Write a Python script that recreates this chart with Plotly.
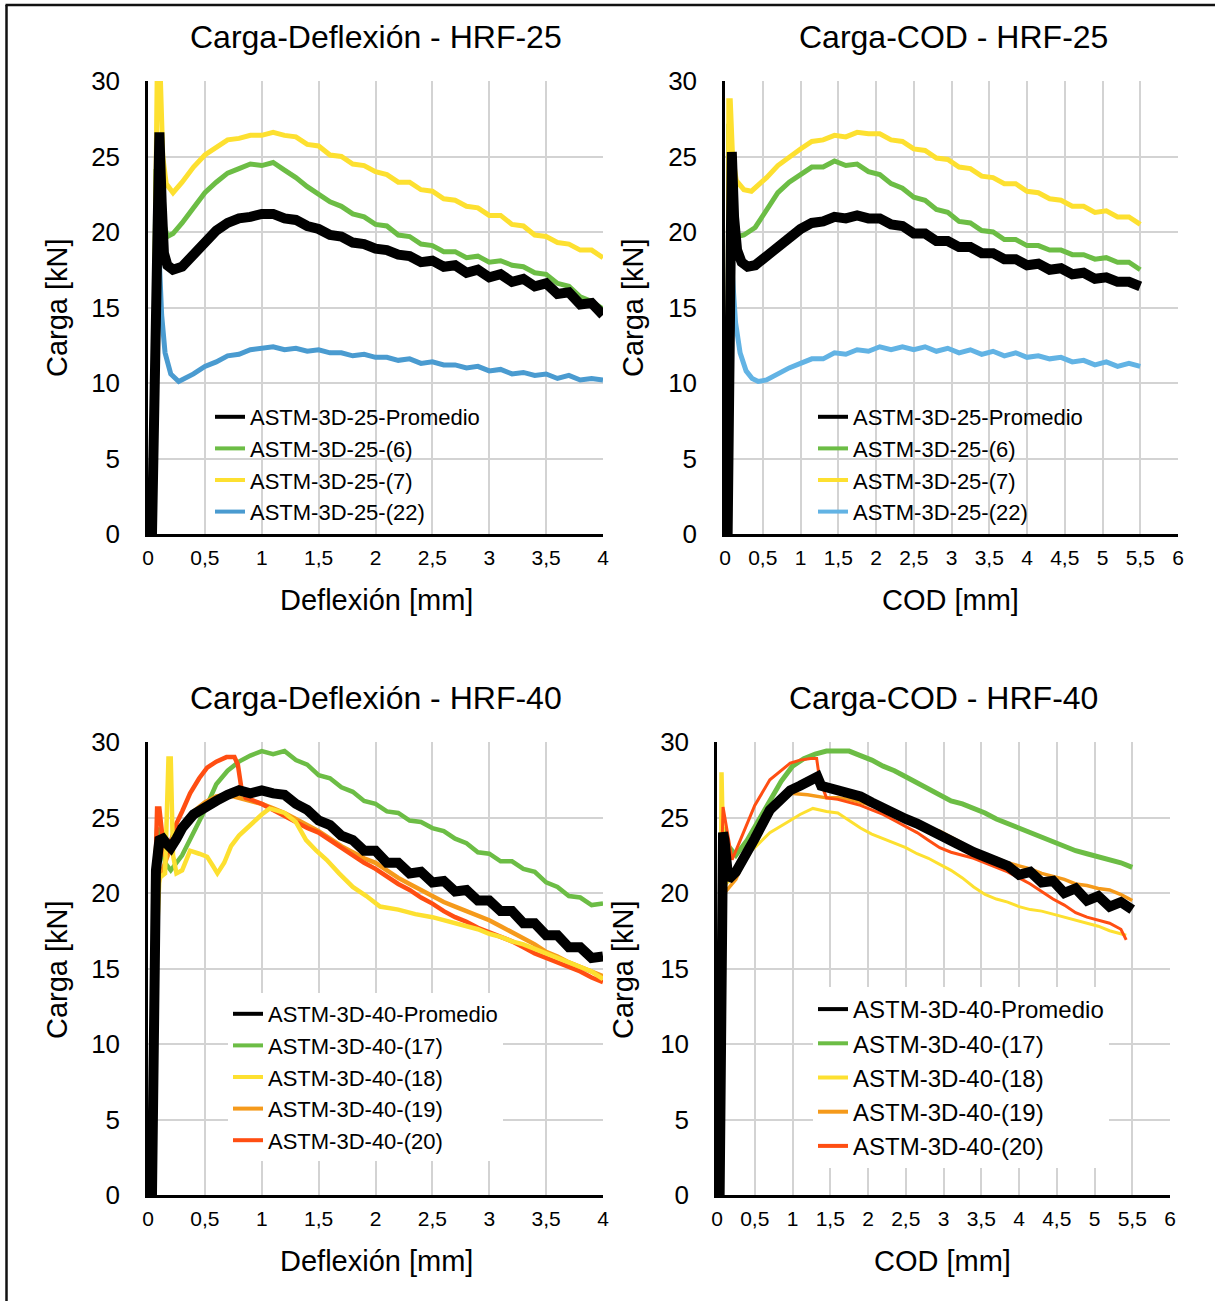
import plotly.graph_objects as go

W, H = 1215, 1301

# ---------------- data ----------------
DEF_X = [0.3, 0.4, 0.5, 0.6, 0.7, 0.8, 0.9, 1.0, 1.1, 1.2, 1.3, 1.4, 1.5, 1.6, 1.7, 1.8, 1.9,
         2.0, 2.1, 2.2, 2.3, 2.4, 2.5, 2.6, 2.7, 2.8, 2.9, 3.0, 3.1, 3.2, 3.3, 3.4, 3.5, 3.6,
         3.7, 3.8, 3.9, 4.0]
COD_X = [1.0, 1.15, 1.3, 1.45, 1.6, 1.75, 1.9, 2.05, 2.2, 2.35, 2.5, 2.65, 2.8, 2.95, 3.1,
         3.25, 3.4, 3.55, 3.7, 3.85, 4.0, 4.15, 4.3, 4.45, 4.6, 4.75, 4.9, 5.05, 5.2, 5.35, 5.5]

# --- HRF-25, Carga-Deflexion ---
d25_prom_x = [0.035, 0.08, 0.10, 0.12, 0.14, 0.17, 0.22] + DEF_X
d25_prom_y = [0, 26.6, 26.6, 22.0, 18.6, 17.8, 17.5,
              17.7, 18.5, 19.4, 20.1, 20.6, 20.9, 21.0, 21.2, 21.2, 20.9,
              20.8, 20.4, 20.2, 19.8, 19.7, 19.3, 19.2, 18.9, 18.8, 18.5,
              18.4, 18.0, 18.1, 17.7, 17.8, 17.3, 17.5, 17.0, 17.2, 16.7,
              16.9, 16.4, 16.6, 15.9, 16.0, 15.2, 15.3, 14.5]
d25_6_x = [0.035, 0.07, 0.1, 0.14, 0.17, 0.22] + DEF_X
d25_6_y = [0, 24.0, 24.0, 20.5, 19.7, 19.9,
           20.6, 21.6, 22.6, 23.3, 23.9, 24.2, 24.5, 24.4, 24.6, 24.1,
           23.6, 23.0, 22.5, 22.0, 21.7, 21.2, 21.0, 20.5, 20.4, 19.8,
           19.7, 19.2, 19.1, 18.7, 18.7, 18.3, 18.4, 18.0, 18.1, 17.8,
           17.7, 17.3, 17.2, 16.6, 16.4, 15.7, 15.4, 14.9]
d25_7_x = [0.035, 0.08, 0.11, 0.13, 0.16, 0.22] + DEF_X
d25_7_y = [0, 29.9, 29.9, 25.0, 23.2, 22.6,
           23.3, 24.3, 25.1, 25.6, 26.1, 26.2, 26.4, 26.4, 26.6, 26.4,
           26.3, 25.8, 25.7, 25.1, 25.0, 24.5, 24.4, 24.0, 23.8, 23.3,
           23.3, 22.8, 22.7, 22.2, 22.1, 21.7, 21.6, 21.1, 21.1, 20.5,
           20.4, 19.8, 19.7, 19.3, 19.2, 18.8, 18.8, 18.3]
d25_22_x = [0.035, 0.08, 0.1, 0.12, 0.15, 0.2, 0.27] + DEF_X
d25_22_y = [0, 18.5, 18.0, 14.5, 12.0, 10.6, 10.1,
            10.2, 10.6, 11.1, 11.4, 11.8, 11.9, 12.2, 12.3, 12.4, 12.2,
            12.3, 12.1, 12.2, 12.0, 12.0, 11.8, 11.9, 11.7, 11.7, 11.5,
            11.6, 11.3, 11.4, 11.2, 11.2, 11.0, 11.1, 10.8, 10.9, 10.6,
            10.7, 10.5, 10.6, 10.3, 10.5, 10.2, 10.3, 10.2]

# --- HRF-25, Carga-COD ---
c25_prom_x = [0.035, 0.06, 0.09, 0.12, 0.16, 0.22, 0.3, 0.4, 0.55, 0.7, 0.85] + COD_X
c25_prom_y = [0, 25.3, 25.3, 21.0, 18.8, 18.0, 17.7, 17.8, 18.4, 19.1, 19.7,
              20.2, 20.6, 20.7, 21.0, 20.9, 21.1, 20.9, 20.9, 20.5, 20.4,
              19.9, 19.9, 19.4, 19.4, 19.0, 19.0, 18.6, 18.6, 18.2, 18.2,
              17.8, 17.9, 17.5, 17.6, 17.2, 17.3, 16.9, 17.0, 16.7, 16.7, 16.4]
c25_6_x = [0.035, 0.05, 0.07, 0.1, 0.17, 0.25, 0.4, 0.55, 0.7, 0.85] + COD_X
c25_6_y = [0, 27.0, 27.0, 22.0, 19.7, 19.8, 20.3, 21.5, 22.6, 23.3,
           23.8, 24.3, 24.3, 24.7, 24.4, 24.5, 24.0, 23.8, 23.2, 22.9,
           22.3, 22.1, 21.5, 21.3, 20.7, 20.6, 20.1, 20.0, 19.5, 19.5,
           19.1, 19.1, 18.8, 18.8, 18.5, 18.5, 18.2, 18.3, 18.0, 18.0, 17.5]
c25_7_x = [0.035, 0.05, 0.07, 0.1, 0.15, 0.25, 0.35, 0.45, 0.55, 0.7, 0.85] + COD_X
c25_7_y = [0, 28.7, 28.7, 25.0, 23.4, 22.8, 22.7, 23.1, 23.6, 24.4, 25.0,
           25.5, 26.0, 26.1, 26.4, 26.3, 26.6, 26.5, 26.5, 26.1, 26.0,
           25.5, 25.4, 24.9, 24.8, 24.3, 24.2, 23.7, 23.6, 23.2, 23.2,
           22.7, 22.6, 22.2, 22.1, 21.7, 21.7, 21.3, 21.4, 21.0, 21.0, 20.5]
c25_22_x = [0.035, 0.06, 0.1, 0.14, 0.2, 0.28, 0.36, 0.44, 0.55, 0.7, 0.85] + COD_X
c25_22_y = [0, 18.4, 17.0, 14.0, 12.0, 10.8, 10.3, 10.1, 10.2, 10.6, 11.0,
            11.3, 11.6, 11.6, 12.0, 11.9, 12.2, 12.1, 12.4, 12.2, 12.4,
            12.2, 12.4, 12.1, 12.3, 12.0, 12.2, 11.9, 12.1, 11.8, 12.0,
            11.7, 11.8, 11.6, 11.7, 11.4, 11.5, 11.2, 11.4, 11.1, 11.3, 11.1]

# --- HRF-40, Carga-Deflexion ---
d40_prom_x = [0.035, 0.05, 0.07, 0.1, 0.13, 0.16, 0.2, 0.25] + DEF_X
d40_prom_y = [0, 18.0, 21.5, 23.5, 23.6, 23.3, 23.0, 23.6,
              24.3, 25.2, 25.7, 26.1, 26.5, 26.8, 26.6, 26.8, 26.6, 26.5,
              25.9, 25.5, 24.8, 24.5, 23.8, 23.5, 22.8, 22.8, 22.0, 22.0,
              21.3, 21.4, 20.7, 20.8, 20.1, 20.2, 19.5, 19.5, 18.8, 18.8,
              18.0, 18.0, 17.2, 17.2, 16.4, 16.4, 15.7, 15.8]
d40_17_x = [0.035, 0.05, 0.08, 0.1, 0.15, 0.2] + DEF_X
d40_17_y = [0, 20.0, 24.2, 24.2, 22.0, 21.5,
            22.5, 24.0, 25.5, 27.2, 28.1, 28.7, 29.1, 29.4, 29.2, 29.4,
            28.8, 28.5, 27.8, 27.6, 27.0, 26.7, 26.1, 25.9, 25.4, 25.3,
            24.8, 24.7, 24.3, 24.1, 23.6, 23.3, 22.7, 22.6, 22.1, 22.1,
            21.6, 21.4, 20.7, 20.4, 19.8, 19.7, 19.2, 19.3]
d40_18_x = [0.035, 0.05, 0.1, 0.15, 0.18, 0.2, 0.22, 0.25, 0.3, 0.37,
            0.45, 0.52, 0.57, 0.61, 0.67, 0.73, 0.8, 0.91, 1.0, 1.07,
            1.15, 1.2, 1.3, 1.39, 1.48, 1.57, 1.68, 1.8, 1.92, 2.04,
            2.2, 2.35] + DEF_X[22:]
d40_18_y = [0, 12.0, 21.0, 21.3, 28.9, 28.9, 22.5, 21.3, 21.5, 22.8,
            22.6, 22.4, 21.8, 21.3, 22.0, 23.1, 23.8, 24.6, 25.2, 25.6,
            25.4, 25.3, 24.7, 23.5, 22.8, 22.2, 21.3, 20.4, 19.8, 19.1,
            18.9, 18.6,
            18.4, 18.2, 18.0, 17.8, 17.6, 17.3, 17.1, 16.8, 16.6, 16.3,
            16.0, 15.7, 15.4, 15.1, 14.8, 14.3]
d40_19_x = [0.035, 0.05, 0.08, 0.1, 0.15, 0.2] + DEF_X
d40_19_y = [0, 16.0, 20.0, 20.9, 22.0, 23.0,
            24.4, 25.4, 26.0, 26.4, 26.5, 26.3, 26.1, 25.9, 25.6, 25.3,
            24.9, 24.5, 24.1, 23.6, 23.1, 22.7, 22.3, 22.0, 21.5, 21.0,
            20.6, 20.2, 19.8, 19.4, 19.1, 18.8, 18.5, 18.2, 17.8, 17.4,
            17.0, 16.6, 16.1, 15.8, 15.4, 15.1, 14.8, 14.5]
d40_20_x = [0.035, 0.05, 0.08, 0.1, 0.13, 0.15, 0.2, 0.25, 0.3, 0.37,
            0.45, 0.52, 0.6, 0.69, 0.76, 0.79, 0.82, 0.86, 0.9] + DEF_X[7:]
d40_20_y = [0, 17.0, 25.6, 25.6, 23.5, 22.4, 23.4, 24.6, 25.4, 26.6,
            27.6, 28.3, 28.7, 29.0, 29.0, 28.5, 27.0, 26.3, 26.2,
            25.9, 25.5, 25.1, 24.7, 24.3, 24.0, 23.5, 23.0, 22.5, 22.0,
            21.6, 21.1, 20.6, 20.2, 19.7, 19.3, 18.8, 18.4, 18.1, 17.7,
            17.4, 17.1, 16.8, 16.4, 16.0, 15.7, 15.4, 15.1, 14.8, 14.4, 14.1]

# --- HRF-40, Carga-COD ---
c40_prom_x = [0.035, 0.05, 0.08, 0.1, 0.15, 0.25, 0.35, 0.5, 0.7, 0.85, 0.97,
              1.1, 1.2, 1.27, 1.33, 1.38, 1.45] + COD_X[4:]
c40_prom_y = [0, 20.0, 24.0, 23.5, 20.9, 21.4, 22.2, 23.6, 25.5, 26.3, 26.8,
              27.1, 27.3, 27.5, 27.7, 27.1, 27.0,
              26.8, 26.7, 26.4, 26.0, 25.6, 25.3, 24.9, 24.6, 24.2, 23.8,
              23.5, 23.1, 22.7, 22.4, 22.1, 21.8, 21.2, 21.4, 20.7, 20.8,
              20.0, 20.3, 19.5, 19.8, 19.1, 19.4, 18.9]
c40_17_x = [0.035, 0.05, 0.08, 0.1, 0.15, 0.25, 0.4, 0.55, 0.7, 0.85, 1.0,
            1.15, 1.3, 1.45] + COD_X[4:]
c40_17_y = [0, 18.0, 24.2, 24.2, 23.1, 22.5, 23.5, 24.8, 26.2, 27.4, 28.4,
            28.9, 29.2, 29.4,
            29.4, 29.4, 29.1, 28.8, 28.4, 28.1, 27.7, 27.3, 26.9, 26.5,
            26.1, 25.9, 25.6, 25.3, 24.9, 24.6, 24.3, 24.0, 23.7, 23.4,
            23.1, 22.8, 22.6, 22.4, 22.2, 22.0, 21.7]
c40_18_x = [0.035, 0.04, 0.05, 0.07, 0.1, 0.2, 0.35, 0.5, 0.7, 0.97, 1.1,
            1.27, 1.45] + COD_X[4:-1] + [5.42]
c40_18_y = [0, 20.0, 27.9, 27.9, 20.5, 21.0, 22.4, 23.0, 24.0, 24.8, 25.2,
            25.6, 25.4,
            25.3, 24.8, 24.3, 23.9, 23.6, 23.3, 23.0, 22.6, 22.3, 21.9,
            21.5, 21.0, 20.4, 19.9, 19.6, 19.4, 19.1, 18.9, 18.8, 18.6,
            18.4, 18.2, 18.0, 17.8, 17.5, 17.3, 17.2]
c40_19_x = [0.035, 0.05, 0.1, 0.25, 0.4, 0.55, 0.7, 0.85, 0.97, 1.2, 1.45] + COD_X[4:]
c40_19_y = [0, 15.0, 20.0, 20.9, 22.6, 24.0, 25.3, 26.2, 26.6, 26.5, 26.3,
            26.3, 26.2, 26.0, 25.8, 25.5, 25.2, 24.9, 24.6, 24.3, 24.1,
            23.7, 23.3, 22.8, 22.5, 22.3, 22.0, 21.8, 21.6, 21.3, 21.1,
            20.9, 20.6, 20.5, 20.3, 20.2, 19.9, 19.5]
c40_20_x = [0.035, 0.04, 0.08, 0.12, 0.2, 0.35, 0.5, 0.7, 0.85, 0.97, 1.1,
            1.24, 1.32, 1.36, 1.45] + COD_X[4:-1] + [5.42]
c40_20_y = [0, 18.0, 25.7, 24.5, 22.2, 24.0, 25.8, 27.5, 28.1, 28.6, 28.8,
            28.9, 28.9, 27.5, 26.3,
            26.2, 26.0, 25.8, 25.5, 25.2, 24.8, 24.4, 24.0, 23.5, 23.0,
            22.7, 22.5, 22.3, 22.0, 21.7, 21.4, 21.0, 20.6, 20.1, 19.6,
            19.2, 18.7, 18.4, 18.2, 18.0, 17.6, 16.9]

X_TICKS_DEF = [0, 0.5, 1, 1.5, 2, 2.5, 3, 3.5, 4]
X_TICKS_COD = [0, 0.5, 1, 1.5, 2, 2.5, 3, 3.5, 4, 4.5, 5, 5.5, 6]
Y_TICKS = [0, 5, 10, 15, 20, 25, 30]

TITLES = ["Carga-Deflexión - HRF-25", "Carga-COD - HRF-25",
          "Carga-Deflexión - HRF-40", "Carga-COD - HRF-40"]
XTITLES = ["Deflexión [mm]", "COD [mm]", "Deflexión [mm]", "COD [mm]"]
YTITLE = "Carga [kN]"

# ---------------- styles ----------------
BLACK = "#000000"
GREEN = "#6cbd45"
YELLOW = "#fde030"
BLUE1 = "#4a9bd0"
BLUE2 = "#62b3e4"
ORANGE = "#f59a1b"
RED = "#ff4e12"
FONT = "Liberation Sans, Arial, sans-serif"

fig = go.Figure()


def add(x, y, color, width, ax):
    fig.add_trace(go.Scatter(x=x, y=y, mode="lines", line=dict(color=color, width=width),
                             xaxis="x" + ax, yaxis="y" + ax, showlegend=False,
                             hoverinfo="skip"))


def leg(name, color, ax, legend):
    fig.add_trace(go.Scatter(x=[None], y=[None], mode="lines", line=dict(color=color, width=4),
                             xaxis="x" + ax, yaxis="y" + ax, name=name, legend=legend,
                             showlegend=True))


# panel 1
add(d25_22_x, d25_22_y, BLUE1, 5, "")
add(d25_6_x, d25_6_y, GREEN, 5, "")
add(d25_7_x, d25_7_y, YELLOW, 5, "")
add(d25_prom_x, d25_prom_y, BLACK, 10, "")
leg("ASTM-3D-25-Promedio", BLACK, "", "legend")
leg("ASTM-3D-25-(6)", GREEN, "", "legend")
leg("ASTM-3D-25-(7)", YELLOW, "", "legend")
leg("ASTM-3D-25-(22)", BLUE1, "", "legend")

# panel 2
add(c25_22_x, c25_22_y, BLUE2, 5, "2")
add(c25_6_x, c25_6_y, GREEN, 5, "2")
add(c25_7_x, c25_7_y, YELLOW, 5, "2")
add(c25_prom_x, c25_prom_y, BLACK, 10, "2")
leg("ASTM-3D-25-Promedio", BLACK, "2", "legend2")
leg("ASTM-3D-25-(6)", GREEN, "2", "legend2")
leg("ASTM-3D-25-(7)", YELLOW, "2", "legend2")
leg("ASTM-3D-25-(22)", BLUE2, "2", "legend2")

# panel 3
add(d40_17_x, d40_17_y, GREEN, 4.5, "3")
add(d40_19_x, d40_19_y, ORANGE, 4.5, "3")
add(d40_20_x, d40_20_y, RED, 4.5, "3")
add(d40_18_x, d40_18_y, YELLOW, 4.5, "3")
add(d40_prom_x, d40_prom_y, BLACK, 10, "3")
leg("ASTM-3D-40-Promedio", BLACK, "3", "legend3")
leg("ASTM-3D-40-(17)", GREEN, "3", "legend3")
leg("ASTM-3D-40-(18)", YELLOW, "3", "legend3")
leg("ASTM-3D-40-(19)", ORANGE, "3", "legend3")
leg("ASTM-3D-40-(20)", RED, "3", "legend3")

# panel 4
add(c40_17_x, c40_17_y, GREEN, 5, "4")
add(c40_19_x, c40_19_y, ORANGE, 3.5, "4")
add(c40_18_x, c40_18_y, YELLOW, 3, "4")
add(c40_20_x, c40_20_y, RED, 3, "4")
add(c40_prom_x, c40_prom_y, BLACK, 10, "4")
leg("ASTM-3D-40-Promedio", BLACK, "4", "legend4")
leg("ASTM-3D-40-(17)", GREEN, "4", "legend4")
leg("ASTM-3D-40-(18)", YELLOW, "4", "legend4")
leg("ASTM-3D-40-(19)", ORANGE, "4", "legend4")
leg("ASTM-3D-40-(20)", RED, "4", "legend4")


def px(v):
    return v / W


def py(v):
    return 1 - v / H


GRID = "#d3d3d3"


def xax(dom, rng, ticks, anchor):
    return dict(domain=dom, range=rng, tickvals=ticks, showgrid=True, gridcolor=GRID,
                gridwidth=1.5, showline=True, linecolor="black", linewidth=2.5,
                zeroline=False, ticks="", tickfont=dict(size=21, color="black", family=FONT),
                ticklabelstandoff=3, anchor=anchor, automargin=False, fixedrange=True)


def yax(dom, anchor):
    return dict(domain=dom, range=[0, 30], tickvals=Y_TICKS, showgrid=True, gridcolor=GRID,
                gridwidth=1.5, showline=True, linecolor="black", linewidth=2.5,
                zeroline=False, ticks="", tickfont=dict(size=26, color="black", family=FONT),
                ticklabelstandoff=20, anchor=anchor, automargin=False, fixedrange=True)


top_dom = [py(534), py(81)]
bot_dom = [py(1195), py(742)]

layout = dict(
    width=W, height=H, margin=dict(l=0, r=0, t=0, b=0, autoexpand=False),
    paper_bgcolor="white", plot_bgcolor="white", separators=", ",
    font=dict(family=FONT, color="black"),
    xaxis=xax([px(148), px(603)], [0, 4], X_TICKS_DEF, "y"),
    yaxis=yax(top_dom, "x"),
    xaxis2=xax([px(725), px(1178)], [0, 6], X_TICKS_COD, "y2"),
    yaxis2=yax(top_dom, "x2"),
    xaxis3=xax([px(148), px(603)], [0, 4], X_TICKS_DEF, "y3"),
    yaxis3=yax(bot_dom, "x3"),
    xaxis4=xax([px(717), px(1170)], [0, 6], X_TICKS_COD, "y4"),
    yaxis4=yax(bot_dom, "x4"),
)


def legend_cfg(x, y, size, bg):
    return dict(x=px(x), y=py(y), xanchor="left", yanchor="top", bgcolor=bg,
                font=dict(size=size, color="black", family=FONT), borderwidth=0,
                itemclick=False, itemdoubleclick=False)


layout["legend"] = legend_cfg(210, 396, 22, "rgba(0,0,0,0)")
layout["legend2"] = legend_cfg(813, 396, 22, "rgba(0,0,0,0)")
layout["legend3"] = legend_cfg(228, 993, 22, "white")
layout["legend4"] = legend_cfg(813, 987, 24, "white")

annotations = []
for t, (cx, cy) in zip(TITLES, [(376, 37), (953, 37), (376, 698), (943, 698)]):
    annotations.append(dict(text=t, x=px(cx), y=py(cy), xref="paper", yref="paper",
                            xanchor="center", yanchor="middle", showarrow=False,
                            font=dict(size=32, color="black", family=FONT)))
for t, (cx, cy) in zip(XTITLES, [(376, 600), (951, 600), (376, 1261), (942, 1261)]):
    annotations.append(dict(text=t, x=px(cx), y=py(cy), xref="paper", yref="paper",
                            xanchor="center", yanchor="middle", showarrow=False,
                            font=dict(size=29, color="black", family=FONT)))
for (cx, cy) in [(57, 308), (633, 308), (57, 970), (623, 970)]:
    annotations.append(dict(text=YTITLE, x=px(cx), y=py(cy), xref="paper", yref="paper",
                            xanchor="center", yanchor="middle", showarrow=False, textangle=-90,
                            font=dict(size=29, color="black", family=FONT)))
layout["annotations"] = annotations

layout["shapes"] = [
    dict(type="line", xref="paper", yref="paper", x0=px(6.5), x1=px(6.5), y0=0, y1=py(5),
         line=dict(color="#111111", width=2.5)),
    dict(type="line", xref="paper", yref="paper", x0=px(5.5), x1=1, y0=py(5), y1=py(5),
         line=dict(color="#111111", width=2.5)),
]

fig.update_layout(**layout)
fig.write_html("out.html", config={"displayModeBar": False})
